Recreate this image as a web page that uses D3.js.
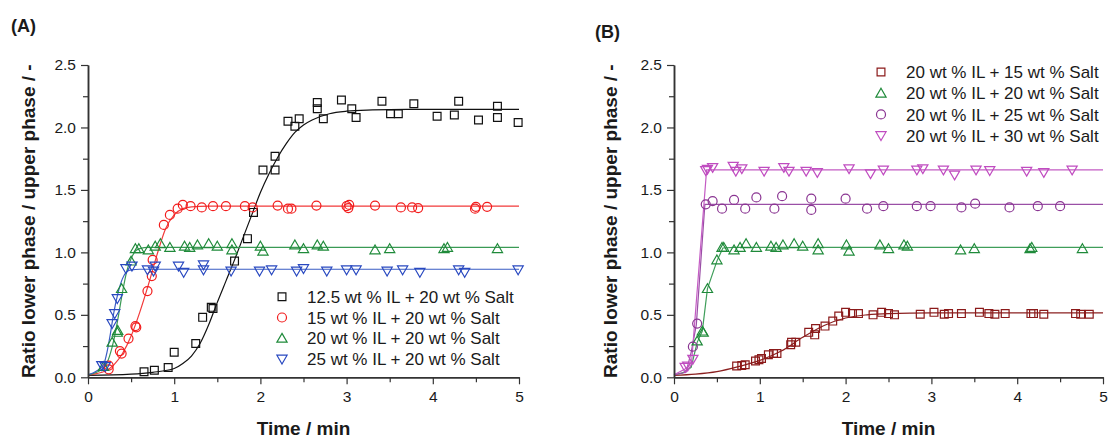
<!DOCTYPE html>
<html><head><meta charset="utf-8">
<script src="https://cdn.jsdelivr.net/npm/d3@7"></script>
<style>
body{margin:0;background:#fff}
text{font-family:"Liberation Sans",Arial,Helvetica,sans-serif;fill:#1a1a1a}
</style>
</head><body>
<svg id="c" width="1109" height="439"></svg>
<script>
// ---------- ticks ----------
const timeTicks = [0, 1, 2, 3, 4, 5];
const ratioTicks = [0, 0.5, 1.0, 1.5, 2.0, 2.5];

// ---------- Panel A : points ----------
const a1Label = "12.5 wt % IL + 20 wt % Salt";
const a1Points = [[0.65,0.045],[0.77,0.056],[0.93,0.078],[1.00,0.20],[1.25,0.27],[1.33,0.48],[1.43,0.56],[1.45,0.55],[1.70,0.93],[1.85,1.11],[1.92,1.32],[2.03,1.66],[2.17,1.66],[2.17,1.77],[2.32,2.05],[2.40,2.01],[2.45,2.07],[2.66,2.20],[2.66,2.15],[2.73,2.07],[2.94,2.22],[3.06,2.15],[3.11,2.08],[3.41,2.21],[3.51,2.11],[3.60,2.11],[3.78,2.19],[4.05,2.09],[4.25,2.10],[4.30,2.21],[4.53,2.06],[4.75,2.17],[4.75,2.08],[4.99,2.04]];
const a1Fit = [[0,0.015],[0.5,0.025],[0.75,0.04],[1.0,0.07],[1.1,0.11],[1.2,0.17],[1.3,0.27],[1.4,0.42],[1.5,0.60],[1.6,0.77],[1.7,0.94],[1.8,1.12],[1.9,1.30],[2.0,1.48],[2.1,1.63],[2.2,1.76],[2.3,1.87],[2.4,1.96],[2.5,2.02],[2.6,2.06],[2.8,2.11],[3.0,2.13],[3.3,2.14],[3.7,2.145],[5.0,2.145]];

const a2Label = "15 wt % IL + 20 wt % Salt";
const a2Points = [[0.24,0.094],[0.24,0.064],[0.37,0.21],[0.39,0.19],[0.47,0.31],[0.55,0.41],[0.56,0.40],[0.69,0.69],[0.74,0.81],[0.75,0.94],[0.88,1.22],[0.95,1.30],[1.04,1.35],[1.10,1.38],[1.19,1.37],[1.32,1.36],[1.45,1.37],[1.60,1.37],[1.82,1.37],[1.91,1.36],[2.20,1.375],[2.32,1.35],[2.36,1.35],[2.65,1.375],[3.00,1.37],[3.03,1.38],[3.02,1.355],[3.33,1.375],[3.63,1.36],[3.76,1.36],[3.83,1.355],[4.49,1.35],[4.50,1.365],[4.63,1.365]];
const a2Fit = [[0,0.02],[0.1,0.03],[0.2,0.05],[0.3,0.10],[0.4,0.19],[0.5,0.33],[0.6,0.52],[0.7,0.74],[0.8,0.98],[0.9,1.19],[1.0,1.30],[1.1,1.35],[1.2,1.365],[1.4,1.37],[5.0,1.37]];

const a3Label = "20 wt % IL + 20 wt % Salt";
const a3Points = [[0.18,0.086],[0.28,0.28],[0.34,0.36],[0.345,0.375],[0.39,0.71],[0.50,0.93],[0.55,1.03],[0.59,1.03],[0.70,1.02],[0.78,1.05],[0.84,1.07],[0.95,1.04],[1.12,1.05],[1.18,1.04],[1.27,1.06],[1.40,1.07],[1.50,1.05],[1.67,1.07],[1.67,1.02],[2.00,1.05],[2.03,1.01],[2.40,1.06],[2.50,1.03],[2.66,1.06],[2.73,1.05],[3.33,1.02],[3.50,1.03],[4.13,1.03],[4.17,1.04],[4.75,1.03]];
const a3Fit = [[0,0.02],[0.1,0.04],[0.2,0.09],[0.25,0.17],[0.3,0.30],[0.35,0.48],[0.4,0.68],[0.45,0.85],[0.5,0.95],[0.55,1.01],[0.6,1.03],[0.7,1.04],[5.0,1.04]];

const a4Label = "25 wt % IL + 20 wt % Salt";
const a4Points = [[0.16,0.094],[0.20,0.086],[0.28,0.43],[0.31,0.51],[0.34,0.63],[0.44,0.87],[0.51,0.89],[0.69,0.86],[0.76,0.85],[0.78,0.89],[1.05,0.89],[1.11,0.84],[1.34,0.90],[1.34,0.86],[1.66,0.85],[1.99,0.85],[2.13,0.86],[2.42,0.85],[2.50,0.87],[2.77,0.85],[3.00,0.86],[3.11,0.86],[3.47,0.85],[3.65,0.86],[3.85,0.84],[4.30,0.86],[4.37,0.84],[4.99,0.86]];
const a4Fit = [[0,0.02],[0.1,0.05],[0.18,0.10],[0.22,0.20],[0.26,0.35],[0.3,0.52],[0.35,0.68],[0.4,0.79],[0.45,0.845],[0.5,0.86],[0.6,0.865],[5.0,0.865]];

// ---------- Panel B : points ----------
const b1Label = "20 wt % IL + 15 wt % Salt";
const b1Points = [[0.73,0.091],[0.79,0.094],[0.83,0.10],[0.95,0.13],[0.99,0.14],[1.02,0.15],[1.10,0.18],[1.16,0.19],[1.20,0.19],[1.36,0.26],[1.37,0.28],[1.42,0.28],[1.57,0.36],[1.64,0.34],[1.65,0.39],[1.76,0.41],[1.85,0.45],[1.92,0.49],[2.00,0.52],[2.08,0.51],[2.15,0.51],[2.32,0.50],[2.42,0.52],[2.50,0.51],[2.57,0.50],[2.87,0.505],[3.03,0.52],[3.15,0.505],[3.20,0.51],[3.35,0.51],[3.56,0.52],[3.67,0.51],[3.74,0.505],[3.86,0.51],[4.16,0.51],[4.19,0.51],[4.31,0.505],[4.68,0.51],[4.74,0.505],[4.84,0.505]];
const b1Fit = [[0,0.015],[0.25,0.025],[0.5,0.045],[0.75,0.085],[1.0,0.135],[1.25,0.21],[1.5,0.32],[1.75,0.415],[2.0,0.475],[2.25,0.50],[2.5,0.51],[3.0,0.515],[5.0,0.515]];

const b2Label = "20 wt % IL + 20 wt % Salt";
const b2Points = [[0.27,0.29],[0.33,0.37],[0.34,0.36],[0.39,0.71],[0.50,0.94],[0.56,1.04],[0.58,1.04],[0.70,1.02],[0.77,1.04],[0.84,1.07],[0.96,1.04],[1.13,1.05],[1.19,1.04],[1.27,1.06],[1.40,1.07],[1.50,1.05],[1.68,1.07],[1.68,1.02],[2.01,1.06],[2.04,1.01],[2.40,1.06],[2.50,1.03],[2.68,1.06],[2.72,1.05],[3.34,1.02],[3.50,1.03],[4.15,1.03],[4.17,1.04],[4.76,1.03]];
const b2Fit = [[0,0.02],[0.1,0.035],[0.2,0.08],[0.27,0.28],[0.33,0.37],[0.39,0.71],[0.5,0.93],[0.57,1.035],[0.7,1.04],[5.0,1.04]];

const b3Label = "20 wt % IL + 25 wt % Salt";
const b3Points = [[0.22,0.245],[0.27,0.43],[0.37,1.385],[0.45,1.41],[0.56,1.35],[0.70,1.42],[0.83,1.35],[0.96,1.44],[1.17,1.35],[1.26,1.45],[1.60,1.43],[1.60,1.34],[2.00,1.43],[2.25,1.35],[2.44,1.37],[2.83,1.37],[2.99,1.37],[3.35,1.36],[3.51,1.39],[3.91,1.36],[4.24,1.37],[4.50,1.37]];
const b3Fit = [[0,0.02],[0.14,0.04],[0.2,0.2],[0.26,0.42],[0.36,1.385],[5.0,1.385]];

const b4Label = "20 wt % IL + 30 wt % Salt";
const b4Points = [[0.13,0.08],[0.16,0.09],[0.22,0.145],[0.37,1.655],[0.39,1.665],[0.45,1.68],[0.69,1.69],[0.72,1.65],[0.79,1.67],[1.05,1.65],[1.28,1.68],[1.34,1.65],[1.54,1.65],[1.67,1.64],[2.04,1.67],[2.29,1.63],[2.44,1.66],[2.83,1.66],[2.90,1.67],[3.14,1.66],[3.27,1.62],[3.52,1.66],[3.68,1.655],[4.11,1.65],[4.31,1.64],[4.64,1.66]];
const b4Fit = [[0,0.02],[0.13,0.066],[0.205,0.12],[0.38,1.66],[5.0,1.66]];

// ---------- drawing ----------
const svg = d3.select("#c");

const seriesA = [
  {label:a1Label, pts:a1Points, fit:a1Fit, sym:"square", color:"#111111", line:"#111111", smooth:true},
  {label:a2Label, pts:a2Points, fit:a2Fit, sym:"circle", color:"#f21c1c", line:"#f23a3a", smooth:true},
  {label:a3Label, pts:a3Points, fit:a3Fit, sym:"up", color:"#1f8a3a", line:"#3a9a55", smooth:true},
  {label:a4Label, pts:a4Points, fit:a4Fit, sym:"down", color:"#2848c0", line:"#3a5cc4", smooth:true}
];
const seriesB = [
  {label:b1Label, pts:b1Points, fit:b1Fit, sym:"square", color:"#8b1a1a", line:"#8b2020", smooth:true},
  {label:b2Label, pts:b2Points, fit:b2Fit, sym:"up", color:"#1f8a3a", line:"#3f9e5a", smooth:false},
  {label:b3Label, pts:b3Points, fit:b3Fit, sym:"circle", color:"#8a3592", line:"#9a4fa6", smooth:false},
  {label:b4Label, pts:b4Points, fit:b4Fit, sym:"down", color:"#c04cc0", line:"#c45cc4", smooth:false}
];

function symbolPath(type){
  switch(type){
    case "square": return "M-3.9,-3.9H3.9V3.9H-3.9Z";
    case "up": return "M0,-4.9L5.1,3.9L-5.1,3.9Z";
    case "down": return "M0,4.9L5.1,-3.9L-5.1,-3.9Z";
  }
  return null;
}
function drawSym(g, type, x, y, color){
  if(type==="circle"){
    g.append("circle").attr("cx",x).attr("cy",y).attr("r",4.5)
      .attr("fill","none").attr("stroke",color).attr("stroke-width",1.2);
  } else {
    g.append("path").attr("d",symbolPath(type)).attr("transform",`translate(${x},${y})`)
      .attr("fill","none").attr("stroke",color).attr("stroke-width",1.2);
  }
}

function panel(cfg){
  const x = d3.scaleLinear().domain([0,5]).range([cfg.x0,cfg.x1]);
  const y = d3.scaleLinear().domain([0,2.5]).range([cfg.yb,cfg.yt]);
  const g = svg.append("g");

  // title
  g.append("text").attr("x",cfg.tx).attr("y",cfg.ty).attr("font-size",18).attr("font-weight","bold").text(cfg.title);

  // fit lines
  cfg.series.forEach(s=>{
    const line = d3.line().x(d=>x(d[0])).y(d=>y(d[1]))
      .curve(s.smooth ? d3.curveMonotoneX : d3.curveLinear);
    g.append("path").attr("d",line(s.fit)).attr("fill","none")
      .attr("stroke",s.line).attr("stroke-width",1.2);
  });
  // points
  cfg.series.forEach(s=>{
    const pg = g.append("g");
    s.pts.forEach(p=>drawSym(pg, s.sym, x(p[0]), y(p[1]), s.color));
  });

  // axes
  const axisColor = "#333";
  const xAxis = d3.axisBottom(x).tickValues(timeTicks).tickFormat(d3.format("d")).tickSize(7).tickSizeOuter(0).tickPadding(7);
  const xa = g.append("g").attr("transform",`translate(0,${cfg.yb})`).call(xAxis);
  const xMinor = d3.axisBottom(x).tickValues([0.5,1.5,2.5,3.5,4.5]).tickFormat("").tickSize(5).tickSizeOuter(0);
  const xm = g.append("g").attr("transform",`translate(0,${cfg.yb})`).call(xMinor);
  const yAxis = d3.axisLeft(y).tickValues(ratioTicks).tickFormat(d3.format(".1f")).tickSize(7).tickSizeOuter(0).tickPadding(5);
  const ya = g.append("g").attr("transform",`translate(${cfg.x0},0)`).call(yAxis);
  const yMinor = d3.axisLeft(y).tickValues([0.25,0.75,1.25,1.75,2.25]).tickFormat("").tickSize(5).tickSizeOuter(0);
  const ym = g.append("g").attr("transform",`translate(${cfg.x0},0)`).call(yMinor);
  [xa,xm,ya,ym].forEach(a=>{
    a.selectAll(".domain").attr("stroke",axisColor).attr("stroke-width",1.5);
    a.selectAll(".tick line").attr("stroke",axisColor).attr("stroke-width",1.2);
    a.selectAll("text").attr("font-size",15.5).attr("fill","#1a1a1a")
      .attr("font-family",'"Liberation Sans",Arial,sans-serif');
  });

  // axis titles
  g.append("text").attr("x",(cfg.x0+cfg.x1)/2).attr("y",cfg.xly).attr("text-anchor","middle")
    .attr("font-size",19).attr("font-weight","bold").text("Time / min");
  g.append("text").attr("transform",`translate(${cfg.ylx},${(cfg.yb+cfg.yt)/2}) rotate(-90)`)
    .attr("text-anchor","middle").attr("dy","0.35em")
    .attr("font-size",19).attr("font-weight","bold").text("Ratio lower phase / upper phase / -");

  // legend
  cfg.series.forEach((s,i)=>{
    const ly = cfg.ly + i*cfg.ldy;
    drawSym(g, s.sym, cfg.lx, ly, s.color);
    g.append("text").attr("x",cfg.lx+25).attr("y",ly).attr("dy","0.36em")
      .attr("font-size",17).text(s.label);
  });
}

panel({series:seriesA, x0:88, x1:519, yb:377.3, yt:65, title:"(A)", tx:11, ty:32,
       xly:435, ylx:28, lx:282, ly:296.7, ldy:20.8});
panel({series:seriesB, x0:674, x1:1103, yb:377.3, yt:65, title:"(B)", tx:595, ty:38,
       xly:435, ylx:610, lx:881, ly:72, ldy:21.2});
</script>
</body></html>
